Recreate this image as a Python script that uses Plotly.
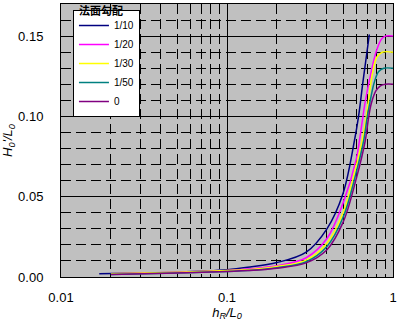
import plotly.graph_objects as go

names = ["1/10", "1/20", "1/30", "1/50", "0"]
colors = ["#000080", "#ff00ff", "#ffff00", "#008080", "#800080"]

x_1_10 = [0.017, 0.03, 0.05, 0.1, 0.133, 0.2, 0.3, 0.4, 0.5, 0.586, 0.62, 0.66, 0.72]
y_1_10 = [0.002, 0.0025, 0.003, 0.0045, 0.006, 0.009, 0.0155, 0.03, 0.052, 0.085, 0.1, 0.122, 0.151]

x_1_20 = [0.02, 0.05, 0.1, 0.133, 0.2, 0.3, 0.4, 0.5, 0.6, 0.628, 0.653, 0.68, 0.74, 0.79, 0.85, 0.9, 1.0]
y_1_20 = [0.002, 0.003, 0.004, 0.005, 0.007, 0.012, 0.024, 0.046, 0.073, 0.085, 0.097, 0.109, 0.128, 0.14, 0.148, 0.15, 0.15]

x_1_30 = [0.02, 0.05, 0.1, 0.133, 0.2, 0.3, 0.4, 0.5, 0.6, 0.652, 0.69, 0.71, 0.75, 0.8, 0.86, 1.0]
y_1_30 = [0.002, 0.003, 0.004, 0.0045, 0.0065, 0.0105, 0.021, 0.04, 0.069, 0.085, 0.1, 0.109, 0.126, 0.137, 0.14, 0.14]

x_1_50 = [0.02, 0.05, 0.1, 0.133, 0.2, 0.3, 0.4, 0.5, 0.6, 0.666, 0.7, 0.73, 0.77, 0.82, 0.88, 1.0]
y_1_50 = [0.0015, 0.0025, 0.0035, 0.004, 0.0058, 0.0095, 0.019, 0.037, 0.065, 0.085, 0.1, 0.11, 0.121, 0.128, 0.13, 0.13]

x_0 = [0.02, 0.05, 0.1, 0.133, 0.2, 0.3, 0.4, 0.5, 0.6, 0.681, 0.71, 0.74, 0.79, 0.84, 0.9, 1.0]
y_0 = [0.0015, 0.0025, 0.0035, 0.004, 0.0055, 0.0088, 0.017, 0.034, 0.061, 0.085, 0.098, 0.108, 0.116, 0.119, 0.12, 0.12]

xs = [x_1_10, x_1_20, x_1_30, x_1_50, x_0]
ys = [y_1_10, y_1_20, y_1_30, y_1_50, y_0]

fig = go.Figure()
for n, c, x, y in zip(names, colors, xs, ys):
    fig.add_trace(go.Scatter(x=x, y=y, mode="lines", name=n,
                             line=dict(color=c, width=1.5, shape="spline", smoothing=1.0)))

font = "Liberation Sans, Arial, sans-serif"
fig.update_layout(
    width=400, height=324,
    margin=dict(l=61, r=3, t=4, b=47),
    paper_bgcolor="white", plot_bgcolor="#c0c0c0",
    font=dict(family=font, size=13, color="black"),
    showlegend=True,
    legend=dict(x=0.036, y=0.978, xanchor="left", yanchor="top",
                bgcolor="white", bordercolor="black", borderwidth=1,
                font=dict(size=10, family=font), tracegroupgap=0,
                itemwidth=30),
    xaxis=dict(type="log", range=[-2, 0], dtick=1,
               showgrid=True, gridcolor="black", gridwidth=1,
               minor=dict(showgrid=True, gridcolor="black", gridwidth=1, griddash="10px,5px"),
               showline=True, linecolor="black", linewidth=1, mirror=True,
               ticks="", zeroline=False, ticklabelstandoff=8,
               ticklabeloverflow="allow",
               title=dict(text="<i>h<sub>R</sub>/L<sub>0</sub></i>", standoff=1, font=dict(size=13))),
    yaxis=dict(range=[0, 0.17], dtick=0.05, tickformat=".2f",
               showgrid=True, gridcolor="black", gridwidth=1,
               minor=dict(dtick=0.01, showgrid=True, gridcolor="black", gridwidth=1, griddash="10px,5px"),
               showline=True, linecolor="black", linewidth=1, mirror=True,
               ticks="", zeroline=False, ticklabelstandoff=14,
               title=dict(text="<i>H<sub>0</sub>'/L<sub>0</sub></i>", standoff=2, font=dict(size=13))),
    annotations=[dict(text="<b>法面勾配</b>", xref="paper", yref="paper",
                      x=0.12, y=1.0147, xanchor="center", yanchor="top", showarrow=False,
                      font=dict(family="Noto Sans CJK JP", size=11, color="black"))],
)
fig.write_html("out.html")
